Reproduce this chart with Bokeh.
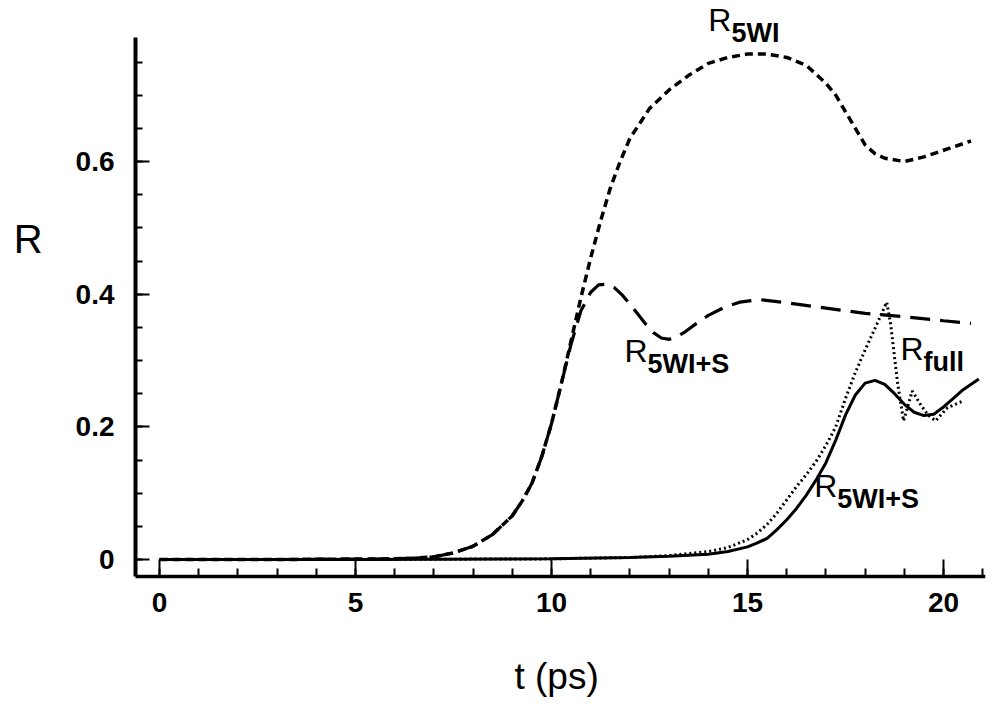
from bokeh.plotting import figure
from bokeh.models import FixedTicker, Label, Range1d
from bokeh.embed import file_html
from bokeh.resources import INLINE

FONT = "Liberation Sans"

# R_5WI (short dashes)
t_5wi = [0, 3, 6, 6.5, 7, 7.5, 8, 8.5, 9, 9.25, 9.5, 9.75, 10, 10.25, 10.5, 10.75,
         11, 11.25, 11.5, 11.75, 12, 12.5, 13, 13.5, 14, 14.5, 15, 15.5, 16, 16.5,
         17, 17.25, 17.5, 17.75, 18, 18.25, 18.5, 19, 19.5, 20, 20.7]
r_5wi = [0, 0, 0.001, 0.002, 0.004, 0.01, 0.02, 0.038, 0.066, 0.088, 0.115, 0.155,
         0.205, 0.265, 0.33, 0.395, 0.455, 0.51, 0.56, 0.6, 0.635, 0.68, 0.708, 0.73,
         0.748, 0.757, 0.762, 0.762, 0.757, 0.745, 0.718, 0.7, 0.675, 0.65, 0.625,
         0.612, 0.605, 0.6, 0.607, 0.617, 0.631]

# R_5WI+S (long dashes)
t_5wis_dash = [0, 3, 6, 6.5, 7, 7.5, 8, 8.5, 9, 9.25, 9.5, 9.75, 10, 10.25, 10.5,
               10.75, 11, 11.2, 11.4, 11.6, 11.8, 12, 12.2, 12.4, 12.6, 12.8, 13,
               13.2, 13.4, 13.7, 14, 14.4, 14.8, 15.3, 16, 17, 18, 19, 20, 20.7]
r_5wis_dash = [0, 0, 0.001, 0.002, 0.004, 0.01, 0.02, 0.038, 0.066, 0.088, 0.115,
               0.155, 0.205, 0.265, 0.325, 0.375, 0.403, 0.414, 0.415, 0.41, 0.399,
               0.385, 0.37, 0.355, 0.342, 0.334, 0.332, 0.336, 0.343, 0.356, 0.368,
               0.38, 0.388, 0.392, 0.387, 0.379, 0.371, 0.366, 0.36, 0.356]

# R_5WI+S (solid)
t_5wis_solid = [0, 5, 10, 12, 13, 14, 14.5, 15, 15.25, 15.5, 15.75, 16, 16.25, 16.5,
                16.75, 17, 17.25, 17.5, 17.75, 18, 18.25, 18.5, 18.75, 19, 19.25,
                19.5, 19.75, 20, 20.25, 20.5, 20.9]
r_5wis_solid = [0, 0, 0.001, 0.003, 0.005, 0.008, 0.012, 0.019, 0.025, 0.032, 0.045,
                0.06, 0.077, 0.097, 0.12, 0.146, 0.18, 0.218, 0.248, 0.266, 0.27,
                0.264, 0.25, 0.234, 0.222, 0.217, 0.219, 0.23, 0.243, 0.256, 0.272]

# R_full (dotted)
t_full = [0, 5, 10, 12, 13, 13.5, 14, 14.5, 15, 15.25, 15.5, 15.75, 16, 16.25, 16.5,
          16.75, 17, 17.25, 17.5, 17.75, 18, 18.3, 18.55, 18.65, 18.83, 18.98, 19.2,
          19.41, 19.6, 19.8, 20.1, 20.5]
r_full = [0, 0, 0.001, 0.003, 0.006, 0.009, 0.012, 0.018, 0.03, 0.04, 0.053, 0.07,
          0.09, 0.11, 0.128, 0.148, 0.172, 0.2, 0.243, 0.282, 0.316, 0.355, 0.388,
          0.355, 0.265, 0.209, 0.254, 0.234, 0.218, 0.209, 0.229, 0.239]

x_major = [0, 5, 10, 15, 20]
x_minor = list(range(0, 22))
y_major = [0, 0.2, 0.4, 0.6]
y_minor = [round(0.05 * k, 2) for k in range(0, 16)]
y_labels = ["0", "0.2", "0.4", "0.6"]
x_labels = ["0", "5", "10", "15", "20"]

# extents of the drawn axes (data units)
T_AXIS = -0.612
T_END = 21.07
R_LOW = -0.0256
R_TOP = 0.787

p = figure(width=1000, height=704, output_backend="svg", toolbar_location=None,
           x_range=Range1d(-4.056, T_END), y_range=Range1d(-0.2186, 0.8428),
           min_border_left=0, min_border_right=15, min_border_top=0,
           min_border_bottom=0)
p.outline_line_color = None
p.xgrid.visible = False
p.ygrid.visible = False
p.background_fill_color = "white"
p.border_fill_color = "white"

# x axis pinned just below R = 0, ticks pointing up
xa = p.xaxis[0]
xa.fixed_location = R_LOW
xa.bounds = (T_AXIS, T_END)
xa.ticker = FixedTicker(ticks=x_major, minor_ticks=x_minor)
xa.major_label_overrides = {v: s for v, s in zip(x_major, x_labels)}
xa.axis_line_width = 3.5
xa.axis_line_color = "black"
xa.major_tick_in = 17
xa.major_tick_out = 0
xa.minor_tick_in = 8
xa.minor_tick_out = 0
xa.major_tick_line_width = 2
xa.minor_tick_line_width = 2
xa.major_tick_line_color = "black"
xa.minor_tick_line_color = "black"
xa.major_label_standoff = 17
xa.major_label_text_font = FONT
xa.major_label_text_font_style = "bold"
xa.major_label_text_font_size = "28px"
xa.major_label_text_color = "black"

# y axis pinned just left of t = 0, ticks pointing right
ya = p.yaxis[0]
ya.fixed_location = T_AXIS
ya.bounds = (R_LOW, R_TOP)
ya.ticker = FixedTicker(ticks=y_major, minor_ticks=y_minor)
ya.major_label_overrides = {v: s for v, s in zip(y_major, y_labels)}
ya.axis_line_width = 4
ya.axis_line_color = "black"
ya.major_tick_in = 14
ya.major_tick_out = 0
ya.minor_tick_in = 7
ya.minor_tick_out = 0
ya.major_tick_line_width = 2
ya.minor_tick_line_width = 2
ya.major_tick_line_color = "black"
ya.minor_tick_line_color = "black"
ya.major_label_standoff = 21
ya.major_label_text_font = FONT
ya.major_label_text_font_style = "bold"
ya.major_label_text_font_size = "28px"
ya.major_label_text_color = "black"

# curves
p.line(t_5wi, r_5wi, line_color="black", line_width=3.5, line_dash="8 5")
p.line(t_5wis_dash, r_5wis_dash, line_color="black", line_width=3.2, line_dash="20 10")
p.line(t_5wis_solid, r_5wis_solid, line_color="black", line_width=3)
p.line(t_full, r_full, line_color="black", line_width=3, line_dash="2 3")

# axis titles
p.add_layout(Label(x=-3.72, y=0.483, text="R", text_font=FONT,
                   text_font_size="40px", text_color="black",
                   text_baseline="alphabetic", text_align="left"))
p.add_layout(Label(x=10.13, y=-0.176, text="t (ps)", text_font=FONT,
                   text_font_size="37px", text_color="black",
                   text_baseline="alphabetic", text_align="center"))

# curve labels: "R" with a bold subscript
SUB_DX = 0.59    # t units
SUB_DY = 0.0196  # R units


def curve_label(t, r, sub):
    p.add_layout(Label(x=t, y=r, text="R", text_font=FONT, text_font_size="32px",
                       text_color="black", text_baseline="alphabetic",
                       text_align="left"))
    p.add_layout(Label(x=t + SUB_DX, y=r - SUB_DY, text=sub, text_font=FONT,
                       text_font_size="27px", text_font_style="bold",
                       text_color="black", text_baseline="alphabetic",
                       text_align="left"))


curve_label(14.00, 0.814, "5WI")
curve_label(11.86, 0.314, "5WI+S")
curve_label(18.90, 0.317, "full")
curve_label(16.70, 0.111, "5WI+S")

open("out.html", "w").write(file_html(p, INLINE))
